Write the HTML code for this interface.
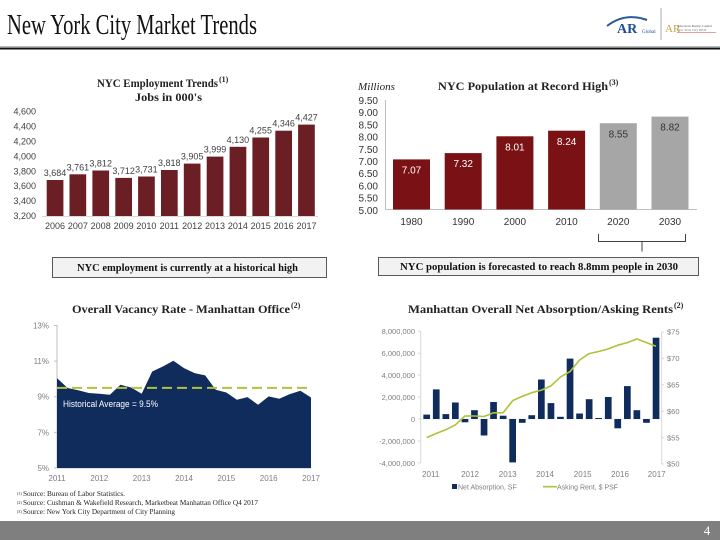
<!DOCTYPE html>
<html><head><meta charset="utf-8"><style>
html,body{margin:0;padding:0;background:#fff;}
svg{display:block;}
.sr{font-family:"Liberation Serif",serif;}
.ss{font-family:"Liberation Sans",sans-serif;}
</style></head><body>
<svg width="720" height="540" viewBox="0 0 720 540" xmlns="http://www.w3.org/2000/svg">
<rect width="720" height="540" fill="#fff"/>
<!-- Header -->
<text class="sr" x="7" y="34" font-size="28" fill="#111" textLength="250" lengthAdjust="spacingAndGlyphs">New York City Market Trends</text>
<line x1="0" y1="46.5" x2="720" y2="46.5" stroke="#bbb" stroke-width="1"/>
<line x1="0" y1="48.5" x2="720" y2="48.5" stroke="#111" stroke-width="2"/>
<!-- Logo -->
<path d="M607,26 Q625,12 647,20" fill="none" stroke="#2a5a9a" stroke-width="2"/>
<text class="sr" x="617" y="33" font-size="14" font-weight="bold" fill="#1f4e8c">AR</text>
<text class="sr" x="642" y="33" font-size="5" fill="#1f4e8c">Global</text>
<line x1="661" y1="8" x2="661" y2="40" stroke="#aaa" stroke-width="1"/>
<text class="sr" x="665" y="32" font-size="11" fill="#c9a640">AR</text>
<text class="sr" x="677" y="27" font-size="3.5" fill="#555">American Realty Capital</text>
<text class="sr" x="677" y="31" font-size="3.5" fill="#777">New York City REIT</text>
<line x1="677" y1="32.5" x2="716" y2="32.5" stroke="#b44" stroke-width="0.5"/>

<!-- Employment chart -->
<text class="sr" x="97" y="87" font-size="12" font-weight="bold" fill="#222" textLength="121" lengthAdjust="spacingAndGlyphs">NYC Employment Trends</text>
<text class="sr" x="219" y="82" font-size="8" font-weight="bold" fill="#222">(1)</text>
<text class="sr" x="135" y="101" font-size="12" font-weight="bold" fill="#222" textLength="67" lengthAdjust="spacingAndGlyphs">Jobs in 000's</text>
<g class="ss" font-size="9" fill="#404040" text-anchor="end">
<text x="36" y="114.7">4,600</text>
<text x="36" y="129.6">4,400</text>
<text x="36" y="144.5">4,200</text>
<text x="36" y="159.4">4,000</text>
<text x="36" y="174.3">3,800</text>
<text x="36" y="189.2">3,600</text>
<text x="36" y="204.1">3,400</text>
<text x="36" y="219">3,200</text>
</g>
<line x1="42" y1="216.5" x2="318" y2="216.5" stroke="#d9d9d9" stroke-width="1"/>
<g fill="#6b1f24">
<rect x="46.7" y="180.0" width="16.7" height="36"/>
<rect x="69.5" y="174.3" width="16.7" height="41.7"/>
<rect x="92.4" y="170.5" width="16.7" height="45.5"/>
<rect x="115.3" y="177.9" width="16.7" height="38.1"/>
<rect x="138.1" y="176.5" width="16.7" height="39.5"/>
<rect x="161.0" y="170.0" width="16.7" height="46"/>
<rect x="183.8" y="163.6" width="16.7" height="52.4"/>
<rect x="206.7" y="156.6" width="16.7" height="59.4"/>
<rect x="229.6" y="146.8" width="16.7" height="69.2"/>
<rect x="252.4" y="137.5" width="16.7" height="78.5"/>
<rect x="275.3" y="130.7" width="16.7" height="85.3"/>
<rect x="298.1" y="124.6" width="16.7" height="91.4"/>
</g>
<g class="ss" font-size="9" fill="#404040" text-anchor="middle">
<text x="55" y="176">3,684</text>
<text x="77.9" y="170.3">3,761</text>
<text x="100.7" y="166.5">3,812</text>
<text x="123.6" y="173.9">3,712</text>
<text x="146.4" y="172.5">3,731</text>
<text x="169.3" y="166">3,818</text>
<text x="192.2" y="159.6">3,905</text>
<text x="215" y="152.6">3,999</text>
<text x="237.9" y="142.8">4,130</text>
<text x="260.7" y="133.5">4,255</text>
<text x="283.6" y="126.7">4,346</text>
<text x="306.5" y="120.6">4,427</text>
</g>
<g class="ss" font-size="9" fill="#404040" text-anchor="middle">
<text x="55" y="229">2006</text>
<text x="77.9" y="229">2007</text>
<text x="100.7" y="229">2008</text>
<text x="123.6" y="229">2009</text>
<text x="146.4" y="229">2010</text>
<text x="169.3" y="229">2011</text>
<text x="192.2" y="229">2012</text>
<text x="215" y="229">2013</text>
<text x="237.9" y="229">2014</text>
<text x="260.7" y="229">2015</text>
<text x="283.6" y="229">2016</text>
<text x="306.5" y="229">2017</text>
</g>
<rect x="52.5" y="257.5" width="274" height="20" fill="#f2f2f2" stroke="#595959" stroke-width="1"/>
<text class="sr" x="77" y="271" font-size="10.5" font-weight="bold" fill="#111" textLength="221" lengthAdjust="spacingAndGlyphs">NYC employment is currently at a historical  high</text>

<!-- Population chart -->
<text class="sr" x="358" y="90" font-size="11" font-style="italic" fill="#222" textLength="37" lengthAdjust="spacingAndGlyphs">Millions</text>
<text class="sr" x="438" y="90" font-size="12" font-weight="bold" fill="#222" textLength="170" lengthAdjust="spacingAndGlyphs">NYC Population at Record High</text>
<text class="sr" x="609" y="85" font-size="8" font-weight="bold" fill="#222">(3)</text>
<g class="ss" font-size="10" fill="#333" text-anchor="end">
<text x="378" y="104">9.50</text>
<text x="378" y="116.2">9.00</text>
<text x="378" y="128.4">8.50</text>
<text x="378" y="140.6">8.00</text>
<text x="378" y="152.8">7.50</text>
<text x="378" y="165">7.00</text>
<text x="378" y="177.2">6.50</text>
<text x="378" y="189.4">6.00</text>
<text x="378" y="201.6">5.50</text>
<text x="378" y="213.8">5.00</text>
</g>
<line x1="385.5" y1="100" x2="385.5" y2="209.5" stroke="#bfbfbf" stroke-width="1"/>
<line x1="385" y1="209.5" x2="697" y2="209.5" stroke="#bfbfbf" stroke-width="1"/>
<g fill="#7a1114">
<rect x="393" y="159.4" width="37" height="50.1"/>
<rect x="444.7" y="153.1" width="37" height="56.4"/>
<rect x="496.4" y="136.3" width="37" height="73.2"/>
<rect x="548.1" y="130.7" width="37" height="78.8"/>
</g>
<g fill="#a6a6a6">
<rect x="599.8" y="123.2" width="37" height="86.3"/>
<rect x="651.5" y="116.6" width="37" height="92.9"/>
</g>
<g class="ss" font-size="10" text-anchor="middle">
<text x="411.5" y="173.5" fill="#fff">7.07</text>
<text x="463.2" y="167.2" fill="#fff">7.32</text>
<text x="514.9" y="150.4" fill="#fff">8.01</text>
<text x="566.6" y="144.8" fill="#fff">8.24</text>
<text x="618.3" y="137.3" fill="#333">8.55</text>
<text x="670" y="130.7" fill="#333">8.82</text>
</g>
<g class="ss" font-size="10" fill="#333" text-anchor="middle">
<text x="411.5" y="225">1980</text>
<text x="463.2" y="225">1990</text>
<text x="514.9" y="225">2000</text>
<text x="566.6" y="225">2010</text>
<text x="618.3" y="225">2020</text>
<text x="670" y="225">2030</text>
</g>
<path d="M598.5,234 V241.5 H685.5 V234 M642,241.5 V251.5" fill="none" stroke="#404040" stroke-width="1"/>
<rect x="378.5" y="257.5" width="320" height="18" fill="#f2f2f2" stroke="#595959" stroke-width="1"/>
<text class="sr" x="400" y="270" font-size="10.5" font-weight="bold" fill="#111" textLength="278" lengthAdjust="spacingAndGlyphs">NYC population is forecasted to reach 8.8mm people in 2030</text>

<!-- Vacancy chart -->
<text class="sr" x="72" y="313" font-size="12" font-weight="bold" fill="#222" textLength="218" lengthAdjust="spacingAndGlyphs">Overall Vacancy Rate - Manhattan Office</text>
<text class="sr" x="291" y="308" font-size="8" font-weight="bold" fill="#222">(2)</text>
<g class="ss" font-size="8" fill="#7f7f7f" text-anchor="end">
<text x="49" y="328.5">13%</text>
<text x="49" y="364.1">11%</text>
<text x="49" y="399.7">9%</text>
<text x="49" y="435.4">7%</text>
<text x="49" y="471">5%</text>
</g>
<path d="M54,325.5 H57 M54,361.1 H57 M54,396.7 H57 M54,432.4 H57 M54,468 H57 M57,325 V468 H311" fill="none" stroke="#bfbfbf" stroke-width="1"/>
<polygon fill="#0f2c5c" points="57,468 57,378.1 67.6,388.0 78.2,390.3 88.7,393.0 99.3,393.7 109.9,394.8 120.5,384.8 131.1,387.5 141.7,393.7 152.2,371.5 162.8,366.5 173.4,360.8 184.0,368.1 194.6,373.1 205.2,375.4 215.7,389.8 226.3,392.5 236.9,399.8 247.5,397.1 258.1,404.8 268.7,396.4 279.2,398.7 289.8,394.1 300.4,390.7 311,397.5 311,468"/>
<line x1="57" y1="387.9" x2="311" y2="387.9" stroke="#b0c23a" stroke-width="2" stroke-dasharray="10,5"/>
<text class="ss" x="63" y="407" font-size="9" fill="#fff" textLength="95" lengthAdjust="spacingAndGlyphs">Historical Average = 9.5%</text>
<g class="ss" font-size="8" fill="#7f7f7f" text-anchor="middle">
<text x="57" y="481">2011</text>
<text x="99.3" y="481">2012</text>
<text x="141.7" y="481">2013</text>
<text x="184" y="481">2014</text>
<text x="226.3" y="481">2015</text>
<text x="268.7" y="481">2016</text>
<text x="311" y="481">2017</text>
</g>

<!-- Absorption chart -->
<text class="sr" x="408" y="313" font-size="12" font-weight="bold" fill="#222" textLength="265" lengthAdjust="spacingAndGlyphs">Manhattan Overall Net Absorption/Asking  Rents</text>
<text class="sr" x="674" y="308" font-size="8" font-weight="bold" fill="#222">(2)</text>
<g class="ss" font-size="7.5" fill="#7f7f7f" text-anchor="end">
<text x="415" y="334">8,000,000</text>
<text x="415" y="356">6,000,000</text>
<text x="415" y="378">4,000,000</text>
<text x="415" y="400">2,000,000</text>
<text x="415" y="422">0</text>
<text x="415" y="444">-2,000,000</text>
<text x="415" y="466">-4,000,000</text>
</g>
<g class="ss" font-size="7.5" fill="#7f7f7f">
<text x="667" y="334.7">$75</text>
<text x="667" y="361.1">$70</text>
<text x="667" y="387.5">$65</text>
<text x="667" y="413.9">$60</text>
<text x="667" y="440.3">$55</text>
<text x="667" y="466.7">$50</text>
</g>
<path d="M420.7,331 V463 M418,331.2 H420.7 M418,353.2 H420.7 M418,375.1 H420.7 M418,397.1 H420.7 M418,419 H420.7 M418,441 H420.7 M418,462.9 H420.7 M661.7,332 V464 M661.7,332 H664 M661.7,358.4 H664 M661.7,384.8 H664 M661.7,411.2 H664 M661.7,437.6 H664 M661.7,464 H664" fill="none" stroke="#d9d9d9" stroke-width="1"/>
<line x1="420.7" y1="419" x2="661.7" y2="419" stroke="#e6e6e6" stroke-width="0.8"/>
<g fill="#0f2c5c">
<rect x="423.35" y="414.6" width="6.7" height="4.4"/>
<rect x="432.9" y="389.4" width="6.7" height="29.6"/>
<rect x="442.5" y="414.1" width="6.7" height="4.9"/>
<rect x="452.0" y="402.5" width="6.7" height="16.5"/>
<rect x="461.6" y="419" width="6.7" height="3.3"/>
<rect x="471.1" y="410.2" width="6.7" height="8.8"/>
<rect x="480.7" y="419" width="6.7" height="16.5"/>
<rect x="490.2" y="402.0" width="6.7" height="17"/>
<rect x="499.8" y="415.7" width="6.7" height="3.3"/>
<rect x="509.3" y="419" width="6.7" height="43.4"/>
<rect x="518.9" y="419" width="6.7" height="3.8"/>
<rect x="528.4" y="415.2" width="6.7" height="3.8"/>
<rect x="538.0" y="379.5" width="6.7" height="39.5"/>
<rect x="547.6" y="403.1" width="6.7" height="15.9"/>
<rect x="557.1" y="416.8" width="6.7" height="2.2"/>
<rect x="566.7" y="358.6" width="6.7" height="60.4"/>
<rect x="576.2" y="413.5" width="6.7" height="5.5"/>
<rect x="585.8" y="399.2" width="6.7" height="19.8"/>
<rect x="595.3" y="418" width="6.7" height="1"/>
<rect x="604.9" y="397" width="6.7" height="22"/>
<rect x="614.4" y="419" width="6.7" height="9.3"/>
<rect x="624.0" y="386.1" width="6.7" height="32.9"/>
<rect x="633.5" y="410.2" width="6.7" height="8.8"/>
<rect x="643.1" y="419" width="6.7" height="3.8"/>
<rect x="652.7" y="337.7" width="6.7" height="81.3"/>
</g>
<polyline fill="none" stroke="#b0c23a" stroke-width="1.6" stroke-linejoin="round" points="426.7,437.6 436.3,433.4 445.8,429.7 455.4,424.9 464.9,416.0 474.5,416.0 484.0,416.5 493.6,412.8 503.1,412.8 512.7,400.6 522.2,396.4 531.8,392.7 541.4,390.1 550.9,385.9 560.5,376.9 570.0,371.6 579.6,360.0 589.1,353.6 598.7,351.5 608.2,348.9 617.8,345.2 627.3,342.6 636.9,338.9 646.5,342.6 656.0,346.3"/>
<g class="ss" font-size="8" fill="#7f7f7f" text-anchor="middle">
<text x="430.7" y="477">2011</text>
<text x="470" y="477">2012</text>
<text x="507.7" y="477">2013</text>
<text x="545" y="477">2014</text>
<text x="582.7" y="477">2015</text>
<text x="620" y="477">2016</text>
<text x="656.7" y="477">2017</text>
</g>
<rect x="452" y="484" width="5" height="5" fill="#0f2c5c"/>
<text class="ss" x="458" y="489.5" font-size="7" fill="#7f7f7f">Net Absorption, SF</text>
<line x1="543" y1="486.7" x2="557" y2="486.7" stroke="#b0c23a" stroke-width="1.6"/>
<text class="ss" x="557" y="489.5" font-size="7" fill="#7f7f7f">Asking Rent, $ PSF</text>

<!-- Footnotes -->
<g class="sr" fill="#222">
<text x="17" y="495" font-size="4">(1)</text>
<text x="23" y="496" font-size="7" textLength="102" lengthAdjust="spacingAndGlyphs">Source:  Bureau of Labor Statistics.</text>
<text x="17" y="504" font-size="4">(2)</text>
<text x="23" y="505" font-size="7" textLength="235" lengthAdjust="spacingAndGlyphs">Source:  Cushman  &amp; Wakefield  Research, Marketbeat  Manhattan  Office Q4 2017</text>
<text x="17" y="513" font-size="4">(3)</text>
<text x="23" y="514" font-size="7" textLength="152" lengthAdjust="spacingAndGlyphs">Source:  New York City Department  of City Planning</text>
</g>

<!-- Footer -->
<rect x="0" y="521" width="720" height="19" fill="#7f7f7f"/>
<text class="sr" x="707" y="535" font-size="13" fill="#fff" text-anchor="middle">4</text>
</svg>
</body></html>
